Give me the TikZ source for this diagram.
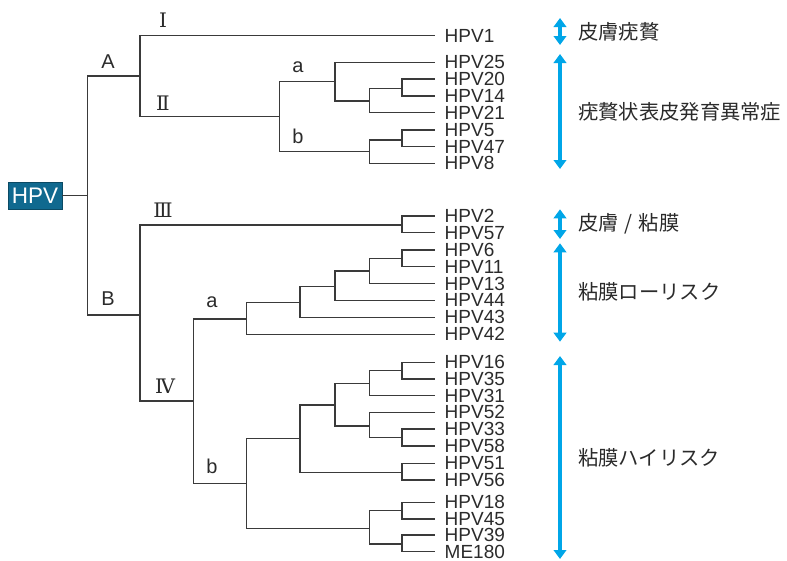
\documentclass[tikz,border=0pt]{standalone}
\usepackage{fontspec}
\setmainfont{Liberation Sans}
\newfontfamily\jpfont{Noto Sans CJK JP}
\newfontfamily\romfont{DejaVu Serif}
\usetikzlibrary{arrows.meta}
\definecolor{txt}{HTML}{2B2B2B}
\definecolor{ln}{HTML}{3A3A3A}
\definecolor{boxblue}{HTML}{10698F}
\definecolor{cy}{HTML}{00A6E8}
\tikzset{
  br/.style={draw=ln, line width=1.3pt},
  leaf/.style={anchor=west, inner xsep=9.5pt, inner ysep=0pt, text=txt, font=\fontsize{19}{19}\selectfont},
  clade/.style={text=txt, font=\fontsize{20}{20}\selectfont, inner sep=0pt},
  roman/.style={text=txt, font=\romfont\fontsize{20}{20}\selectfont, inner sep=0pt},
  jp/.style={anchor=west, text=txt, font=\jpfont\fontsize{20.3}{20.3}\selectfont, inner sep=0pt},
  rng/.style={draw=cy, line width=3.6pt, {Triangle[width=12.5pt,length=9pt]}-{Triangle[width=12.5pt,length=9pt]}},
  hpvbox/.style={fill=boxblue, draw=boxblue!70!black, line width=0.6pt, text=white, minimum width=54pt, minimum height=26.6pt, inner sep=0pt, font=\fontsize{22.5}{22.5}\selectfont}
}
\begin{document}
\begin{tikzpicture}[x=1pt,y=-1pt]
\useasboundingbox (0,0) rectangle (787,560);

% root
\node[hpvbox] (hpv) at (35,195.7) {HPV};
\coordinate (root) at (87.3,195.7);
\coordinate (nA) at (140,76);
\coordinate (nB) at (140,315);
\coordinate (nII) at (279.3,116.7);
\coordinate (nIIa) at (335,81.7);
\coordinate (nIIa1) at (369.3,101);
\coordinate (nIIa2) at (402,88.3);
\coordinate (nIIb) at (369.3,151.7);
\coordinate (nIIb1) at (402,140);
\coordinate (nIII) at (402,225);
\coordinate (nIV) at (193.3,401);
\coordinate (nIVa) at (246.7,319);
\coordinate (n1) at (300,302.3);
\coordinate (n2) at (335,286.7);
\coordinate (n3) at (369.3,271);
\coordinate (n4) at (402,258.7);
\coordinate (nIVb) at (246.7,483.3);
\coordinate (m1) at (300,438.3);
\coordinate (m2) at (369.3,528.3);
\coordinate (m3) at (335,405);
\coordinate (m4) at (402,472.3);
\coordinate (m5) at (369.3,383.3);
\coordinate (m6) at (369.3,426);
\coordinate (m7) at (402,370.7);
\coordinate (m8) at (402,437.7);
\coordinate (m9) at (402,510.7);
\coordinate (m10) at (402,544);

% leaves
\node[leaf] (hpv1)  at (435,35.7)  {HPV1};
\node[leaf] (hpv25) at (435,62.3)  {HPV25};
\node[leaf] (hpv20) at (435,79)    {HPV20};
\node[leaf] (hpv14) at (435,96)    {HPV14};
\node[leaf] (hpv21) at (435,112.7) {HPV21};
\node[leaf] (hpv5)  at (435,130)   {HPV5};
\node[leaf] (hpv47) at (435,146.7) {HPV47};
\node[leaf] (hpv8)  at (435,163.3) {HPV8};
\node[leaf] (hpv2)  at (435,216)   {HPV2};
\node[leaf] (hpv57) at (435,232.7) {HPV57};
\node[leaf] (hpv6)  at (435,250)   {HPV6};
\node[leaf] (hpv11) at (435,266.7) {HPV11};
\node[leaf] (hpv13) at (435,283.7) {HPV13};
\node[leaf] (hpv44) at (435,300.3) {HPV44};
\node[leaf] (hpv43) at (435,317.3) {HPV43};
\node[leaf] (hpv42) at (435,334.3) {HPV42};
\node[leaf] (hpv16) at (435,362.3) {HPV16};
\node[leaf] (hpv35) at (435,379)   {HPV35};
\node[leaf] (hpv31) at (435,395.7) {HPV31};
\node[leaf] (hpv52) at (435,412.3) {HPV52};
\node[leaf] (hpv33) at (435,429)   {HPV33};
\node[leaf] (hpv58) at (435,446)   {HPV58};
\node[leaf] (hpv51) at (435,463.3) {HPV51};
\node[leaf] (hpv56) at (435,480)   {HPV56};
\node[leaf] (hpv18) at (435,502.3) {HPV18};
\node[leaf] (hpv45) at (435,519)   {HPV45};
\node[leaf] (hpv39) at (435,535)   {HPV39};
\node[leaf] (me180) at (435,551.7) {ME180};

% branches
\draw[br] (hpv.east) -- (root);
\draw[br] (root) |- (nA);
\draw[br] (root) |- (nB);
\draw[br] (nA) |- (hpv1.west);
\draw[br] (nA) |- (nII);
\draw[br] (nII) |- (nIIa);
\draw[br] (nII) |- (nIIb);
\draw[br] (nIIa) |- (hpv25.west);
\draw[br] (nIIa) |- (nIIa1);
\draw[br] (nIIa1) |- (nIIa2);
\draw[br] (nIIa1) |- (hpv21.west);
\draw[br] (nIIa2) |- (hpv20.west);
\draw[br] (nIIa2) |- (hpv14.west);
\draw[br] (nIIb) |- (nIIb1);
\draw[br] (nIIb) |- (hpv8.west);
\draw[br] (nIIb1) |- (hpv5.west);
\draw[br] (nIIb1) |- (hpv47.west);
\draw[br] (nB) |- (nIII);
\draw[br] (nB) |- (nIV);
\draw[br] (nIII) |- (hpv2.west);
\draw[br] (nIII) |- (hpv57.west);
\draw[br] (nIV) |- (nIVa);
\draw[br] (nIV) |- (nIVb);
\draw[br] (nIVa) |- (n1);
\draw[br] (nIVa) |- (hpv42.west);
\draw[br] (n1) |- (n2);
\draw[br] (n1) |- (hpv43.west);
\draw[br] (n2) |- (n3);
\draw[br] (n2) |- (hpv44.west);
\draw[br] (n3) |- (n4);
\draw[br] (n3) |- (hpv13.west);
\draw[br] (n4) |- (hpv6.west);
\draw[br] (n4) |- (hpv11.west);
\draw[br] (nIVb) |- (m1);
\draw[br] (nIVb) |- (m2);
\draw[br] (m1) |- (m3);
\draw[br] (m1) |- (m4);
\draw[br] (m3) |- (m5);
\draw[br] (m3) |- (m6);
\draw[br] (m5) |- (m7);
\draw[br] (m5) |- (hpv31.west);
\draw[br] (m7) |- (hpv16.west);
\draw[br] (m7) |- (hpv35.west);
\draw[br] (m6) |- (hpv52.west);
\draw[br] (m6) |- (m8);
\draw[br] (m8) |- (hpv33.west);
\draw[br] (m8) |- (hpv58.west);
\draw[br] (m4) |- (hpv51.west);
\draw[br] (m4) |- (hpv56.west);
\draw[br] (m2) |- (m9);
\draw[br] (m2) |- (m10);
\draw[br] (m9) |- (hpv18.west);
\draw[br] (m9) |- (hpv45.west);
\draw[br] (m10) |- (hpv39.west);
\draw[br] (m10) |- (me180.west);

% clade labels
\node[clade] (labA) at (108,62) {A};
\node[clade] (labB) at (108,299) {B};
\node[roman] (labI) at (163,20) {Ⅰ};
\node[roman] (labII) at (163,103) {Ⅱ};
\node[roman] (labIII) at (163,210) {Ⅲ};
\node[roman] (labIV) at (165,386) {Ⅳ};
\node[clade] (labIIa) at (298,67) {a};
\node[clade] (labIIb) at (298,136) {b};
\node[clade] (labIVa) at (212,302) {a};
\node[clade] (labIVb) at (212,466) {b};

% range arrows
\coordinate (r1t) at (560,18);   \coordinate (r1b) at (560,45);
\coordinate (r2t) at (560,54);   \coordinate (r2b) at (560,169);
\coordinate (r3t) at (560,209.3);\coordinate (r3b) at (560,239);
\coordinate (r4t) at (560,243.3);\coordinate (r4b) at (560,341.7);
\coordinate (r5t) at (560,356);  \coordinate (r5b) at (560,559);
\draw[rng] (r1t) -- (r1b);
\draw[rng] (r2t) -- (r2b);
\draw[rng] (r3t) -- (r3b);
\draw[rng] (r4t) -- (r4b);
\draw[rng] (r5t) -- (r5b);

\node[jp] (t1) at (578,32)    {皮膚疣贅};
\node[jp] (t2) at (578,111.7) {疣贅状表皮発育異常症};
\node[jp] (t3) at (578,223.3) {皮膚\hspace{0.3em}/\hspace{0.3em}粘膜};
\node[jp] (t4) at (578,291.7) {粘膜ローリスク};
\node[jp] (t5) at (578,457.3) {粘膜ハイリスク};
\end{tikzpicture}
\end{document}
